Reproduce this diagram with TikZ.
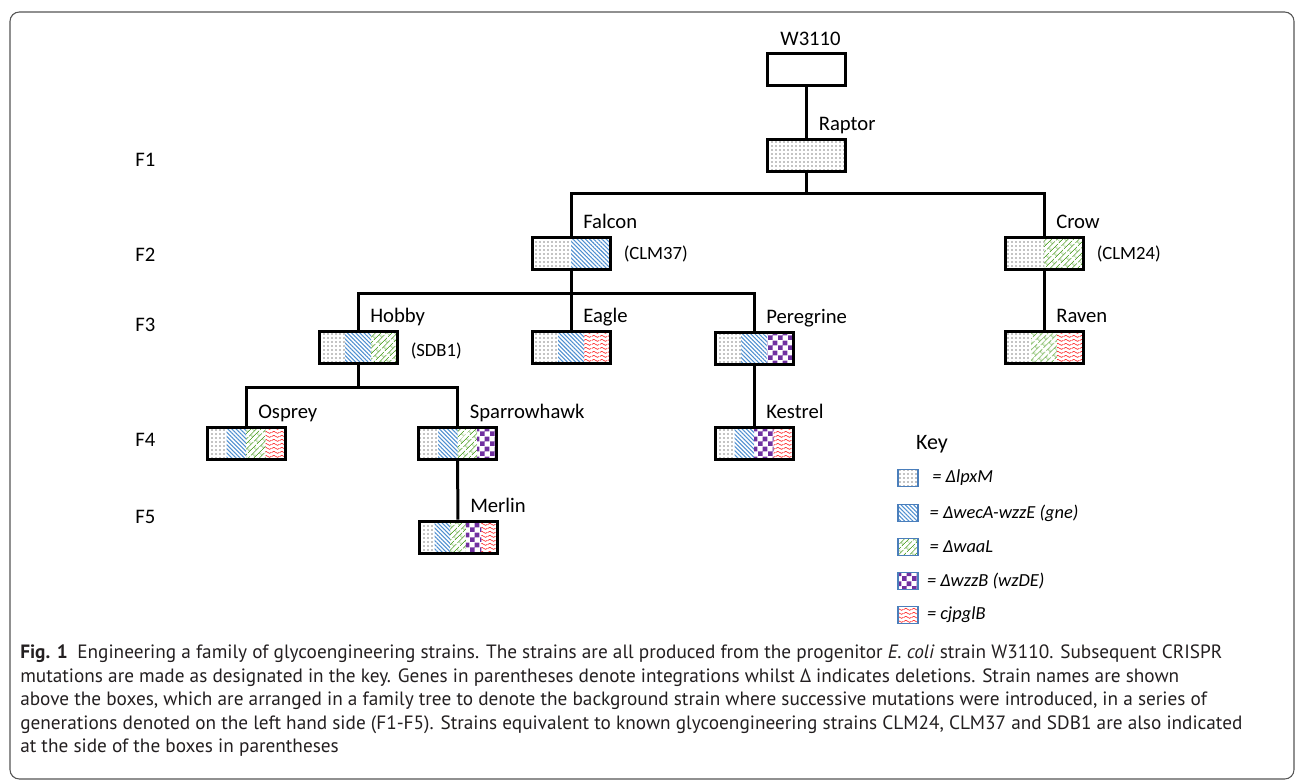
\documentclass[tikz,border=0pt]{standalone}
\usepackage{fontspec}
\setmainfont{Carlito}
\newfontfamily\capfont{PT Sans}
\usepackage{tikz}
\usetikzlibrary{calc,patterns,patterns.meta,positioning}
\definecolor{geneBlue}{HTML}{4F8FD0}
\definecolor{geneGreen}{HTML}{5FA83A}
\definecolor{genePurple}{HTML}{7030A0}
\definecolor{geneRed}{HTML}{FF2020}
\definecolor{keyEdge}{HTML}{4A7EBB}
\definecolor{frameGray}{HTML}{555555}
\definecolor{capInk}{HTML}{231F20}
% own tiles for the brick, checker and wave fills
\tikzdeclarepattern{
  name=brickDiag, type=uncolored,
  bounding box={(0,0) and (9pt,6pt)},
  tile size={(9pt,6pt)},
  tile transformation={rotate=45},
  code={
    \draw[line width=0.55pt] (0,1.5pt) -- (9pt,1.5pt) (0,4.5pt) -- (9pt,4.5pt)
      (2pt,1.5pt) -- (2pt,4.5pt) (6.5pt,4.5pt) -- (6.5pt,6pt) (6.5pt,0) -- (6.5pt,1.5pt);
  }
}
\tikzdeclarepattern{
  name=checkSq, type=uncolored,
  bounding box={(0,0) and (7.2pt,7.2pt)},
  tile size={(7.2pt,7.2pt)},
  code={
    \fill (0,0) rectangle (3.6pt,3.6pt) (3.6pt,3.6pt) rectangle (7.2pt,7.2pt);
  }
}
\tikzdeclarepattern{
  name=waveRow, type=uncolored,
  bounding box={(0,0) and (6pt,3pt)},
  tile size={(6pt,3pt)},
  code={
    \draw[line width=0.55pt] (0,1.5pt) sin (1.5pt,2.4pt) cos (3pt,1.5pt) sin (4.5pt,0.6pt) cos (6pt,1.5pt);
  }
}
\tikzset{
  mDots/.style={pattern={Dots[distance=3pt,radius=0.45pt]}, pattern color=black},
  mGne/.style={pattern={Lines[angle=-45,distance=2.2pt,line width=0.8pt]}, pattern color=geneBlue},
  mWaa/.style={pattern=brickDiag, pattern color=geneGreen},
  mWzz/.style={pattern=checkSq, pattern color=genePurple},
  mPgl/.style={pattern=waveRow, pattern color=geneRed},
  strainBox/.style n args={2}{draw, line width=2.25pt, minimum width=58.5pt,
    minimum height=24pt, inner sep=0pt,
    path picture={
      \foreach \pat [count=\k] in {#2}{
        \fill[style/.expanded=\pat]
          ($(path picture bounding box.south west)!{(\k-1)/#1}!(path picture bounding box.south east)$)
          rectangle ($(path picture bounding box.north west)!{\k/#1}!(path picture bounding box.north east)$);
      }}},
  plainBox/.style={draw, line width=2.25pt, minimum width=58.5pt, minimum height=24pt, inner sep=0pt},
  strainLabel/.style={font=\fontsize{15.5}{18}\selectfont, anchor=base west, inner sep=0pt},
  codeLabel/.style={font=\fontsize{14}{16}\selectfont, inner sep=0pt},
  genLabel/.style={font=\fontsize{15.5}{18}\selectfont, anchor=west, inner sep=0pt},
  treeLink/.style={line width=2.25pt},
  keyBox/.style={draw=keyEdge, line width=1.1pt, minimum width=15pt, minimum height=12.75pt, inner sep=0pt},
  keyText/.style={font=\fontsize{13.8}{16}\selectfont\itshape, anchor=west, inner sep=0pt},
  capText/.style={font=\capfont\fontsize{14.45}{17.6}\selectfont, align=left, inner sep=0pt, text=capInk}
}
\begin{document}
\begin{tikzpicture}[x=0.75pt,y=-0.75pt]
  \useasboundingbox (0,0) rectangle (1295,782);
  \draw[frameGray, line width=0.8pt, rounded corners=7pt] (10,12) rectangle (1294,779);

  % generations
  \node[genLabel] (f1) at (135,160) {F1};
  \node[genLabel] (f2) at (135,255) {F2};
  \node[genLabel] (f3) at (135,325) {F3};
  \node[genLabel] (f4) at (135,440) {F4};
  \node[genLabel] (f5) at (135,517) {F5};

  % strains
  \node[plainBox] (w3110) at (806.5,69.5) {};
  \node[strainBox={1}{mDots}] (raptor) at (806.5,155) {};
  \node[strainBox={2}{mDots,mGne}] (falcon) at (571,253.5) {};
  \node[strainBox={2}{mDots,mWaa}] (crow) at (1044,253.5) {};
  \node[strainBox={3}{mDots,mGne,mWaa}] (hobby) at (358,347) {};
  \node[strainBox={3}{mDots,mGne,mPgl}] (eagle) at (571,347.5) {};
  \node[strainBox={3}{mDots,mGne,mWzz}] (peregrine) at (754,348) {};
  \node[strainBox={3}{mDots,mWaa,mPgl}] (raven) at (1044,347.5) {};
  \node[strainBox={4}{mDots,mGne,mWaa,mPgl}] (osprey) at (246,443.5) {};
  \node[strainBox={4}{mDots,mGne,mWaa,mWzz}] (sparrowhawk) at (457.5,443.5) {};
  \node[strainBox={4}{mDots,mGne,mWzz,mPgl}] (kestrel) at (754,443.5) {};
  \node[strainBox={5}{mDots,mGne,mWaa,mWzz,mPgl}] (merlin) at (458,537) {};

  \node[strainLabel, anchor=base] (w3110Name) at ([xshift=3pt,yshift=5.2pt]w3110.north) {W3110};
  \node[strainLabel] (raptorName) at ([xshift=9pt,yshift=5.6pt]raptor.north) {Raptor};
  \node[strainLabel] (falconName) at ([xshift=9pt,yshift=5.6pt]falcon.north) {Falcon};
  \node[strainLabel] (crowName) at ([xshift=9pt,yshift=5.6pt]crow.north) {Crow};
  \node[strainLabel] (hobbyName) at ([xshift=9pt,yshift=5.6pt]hobby.north) {Hobby};
  \node[strainLabel] (eagleName) at ([xshift=9pt,yshift=5.6pt]eagle.north) {Eagle};
  \node[strainLabel] (peregrineName) at ([xshift=9pt,yshift=5.6pt]peregrine.north) {Peregrine};
  \node[strainLabel] (ravenName) at ([xshift=9pt,yshift=5.6pt]raven.north) {Raven};
  \node[strainLabel] (ospreyName) at ([xshift=9pt,yshift=5.6pt]osprey.north) {Osprey};
  \node[strainLabel] (sparrowhawkName) at ([xshift=9pt,yshift=5.6pt]sparrowhawk.north) {Sparrowhawk};
  \node[strainLabel] (kestrelName) at ([xshift=9pt,yshift=5.6pt]kestrel.north) {Kestrel};
  \node[strainLabel] (merlinName) at ([xshift=9pt,yshift=5.6pt]merlin.north) {Merlin};

  \node[codeLabel, right=9pt of falcon] (clm37) {(CLM37)};
  \node[codeLabel, right=9pt of crow] (clm24) {(CLM24)};
  \node[codeLabel, right=9pt of hobby, yshift=-3pt] (sdb1) {(SDB1)};

  % family tree
  \coordinate (forkA) at (806.5,193);
  \coordinate (forkB) at (571,293);
  \coordinate (forkC) at (358,387);
  \draw[treeLink] (w3110) -- (raptor);
  \draw[treeLink] (raptor) -- (forkA);
  \draw[treeLink] (falcon.north) |- (forkA) -| (crow.north);
  \draw[treeLink] (falcon) -- (eagle);
  \draw[treeLink] (hobby.north) |- (forkB) -| (peregrine.north);
  \draw[treeLink] (crow) -- (raven);
  \draw[treeLink] (hobby) -- (forkC);
  \draw[treeLink] (osprey.north) |- (forkC) -| (sparrowhawk.north);
  \draw[treeLink] (peregrine) -- (kestrel);
  \draw[treeLink] (sparrowhawk) -- (merlin);

  % key
  \node[font=\fontsize{16.5}{19}\selectfont, inner sep=0pt] (keyTitle) at (932,444) {Key};
  \node[keyBox, mDots] (keyLpx) at (908,478) {};
  \node[keyBox, mGne] (keyGne) at (908,513) {};
  \node[keyBox, mWaa] (keyWaa) at (908,547) {};
  \node[keyBox, mWzz] (keyWzz) at (908,581) {};
  \node[keyBox, mPgl] (keyPgl) at (908,615) {};
  \node[keyText] at ([xshift=10pt]keyLpx.east) {= ΔlpxM};
  \node[keyText] at ([xshift=8pt]keyGne.east) {= ΔwecA-wzzE (gne)};
  \node[keyText] at ([xshift=8pt]keyWaa.east) {= ΔwaaL};
  \node[keyText] at ([xshift=6pt]keyWzz.east) {= ΔwzzB (wzDE)};
  \node[keyText] at ([xshift=6pt]keyPgl.east) {= cjpglB};

  % caption
  \node[capText, anchor=north west] (caption) at (20,645) {%
    \textbf{Fig. 1}\enspace Engineering a family of glycoengineering strains. The strains are all produced from the progenitor \textit{E. coli} strain W3110. Subsequent CRISPR\\
    mutations are made as designated in the key. Genes in parentheses denote integrations whilst Δ indicates deletions. Strain names are shown\\
    above the boxes, which are arranged in a family tree to denote the background strain where successive mutations were introduced, in a series of\\
    generations denoted on the left hand side (F1-F5). Strains equivalent to known glycoengineering strains CLM24, CLM37 and SDB1 are also indicated\\
    at the side of the boxes in parentheses};
\end{tikzpicture}
\end{document}
